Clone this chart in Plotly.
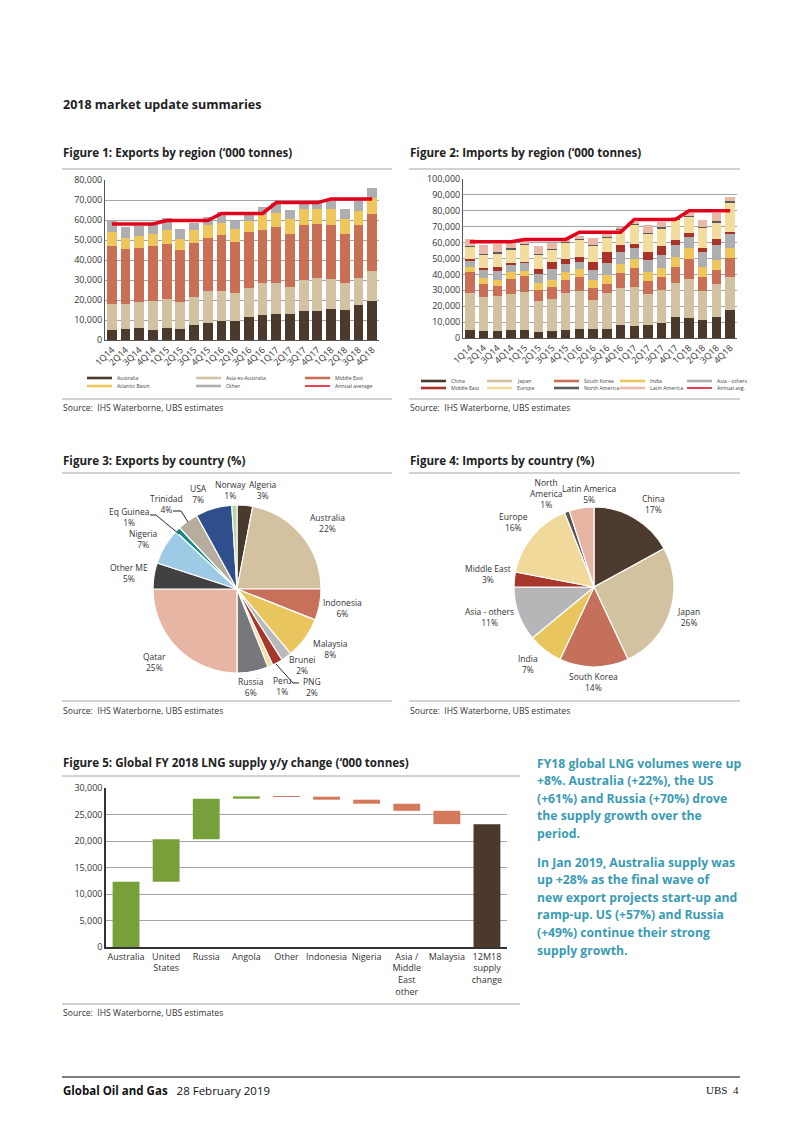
import plotly.graph_objects as go

W, H = 802, 1133
OFF = 8                      # the page body places the figure 8px from the corner
FW, FH = W - OFF, H - OFF
FONT = "Open Sans"

def X(px):
    return (px - OFF) / FW

def Y(py):
    return 1 - (py - OFF) / FH

# ---------------- DATA ----------------
quarters = ["1Q14", "2Q14", "3Q14", "4Q14", "1Q15", "2Q15", "3Q15", "4Q15",
            "1Q16", "2Q16", "3Q16", "4Q16", "1Q17", "2Q17", "3Q17", "4Q17",
            "1Q18", "2Q18", "3Q18", "4Q18"]

# Figure 1: exports by region ('000 tonnes)
exp_australia = [5000, 5500, 5800, 5000, 6200, 5700, 7700, 8500, 9300, 9300,
                 11500, 12700, 13000, 13000, 14700, 14700, 15700, 15200, 17500, 19300]
exp_asia_ex_aus = [12800, 12300, 13400, 14700, 14300, 13500, 13600, 16000, 15200, 14400,
                   14500, 15800, 15700, 13700, 15300, 16100, 14600, 13100, 13700, 15200]
exp_middle_east = [29200, 27500, 26600, 27300, 27700, 25800, 27200, 26500, 28200, 25300,
                   28200, 26500, 27600, 26500, 27700, 27000, 27200, 24700, 26100, 28300]
exp_atlantic = [6800, 5500, 6400, 5800, 6600, 5700, 6300, 6300, 5600, 6300,
                5500, 7700, 7400, 7300, 7800, 7500, 7800, 7500, 7200, 8000]
exp_other = [6200, 5500, 4800, 4700, 6000, 4800, 3900, 4000, 5900, 4400,
             3600, 4000, 4600, 4500, 4700, 4200, 5200, 5000, 6000, 5000]
exp_annual_avg = [58000, 58000, 58000, 58000, 59700, 59700, 59700, 59700,
                  63300, 63300, 63300, 63300, 68700, 68700, 68700, 68700,
                  70500, 70500, 70500, 70500]

# Figure 2: imports by region ('000 tonnes)
imp_china = [4800, 4400, 4200, 5000, 5000, 3800, 4400, 5000, 5900, 5500,
             5900, 8400, 7600, 8000, 9700, 13300, 12600, 11600, 13300, 17500]
imp_japan = [23200, 21100, 22300, 22600, 24000, 19600, 20400, 23600, 23600, 18300,
             22100, 22800, 24600, 19600, 20800, 21000, 24400, 17900, 20400, 21000]
imp_south_korea = [13300, 8200, 6300, 9400, 9900, 6700, 7400, 7800, 9000, 7400,
                   5900, 9800, 11600, 8200, 8000, 10100, 12700, 9000, 9000, 11600]
imp_india = [3500, 3800, 3600, 4300, 3200, 4200, 4200, 4900, 4700, 5200,
             5700, 5500, 5700, 5500, 5700, 6300, 6700, 6300, 6300, 6300]
imp_asia_others = [4200, 5700, 5700, 5200, 5500, 6100, 7000, 5200, 4800, 6300,
                   7800, 7400, 7300, 7700, 8000, 7800, 7400, 9100, 9500, 9100]
imp_middle_east = [500, 1000, 2300, 700, 400, 2800, 4200, 3000, 3200, 4900,
                   6500, 4600, 2600, 4900, 5700, 3200, 2100, 2900, 3800, 1400]
imp_europe = [8000, 8400, 8900, 8600, 10500, 9000, 7800, 10500, 10500, 10300,
              9300, 9500, 12200, 11600, 11100, 12600, 10500, 12900, 10500, 18600]
imp_north_america = [500, 400, 600, 600, 500, 400, 400, 400, 600, 600,
                     600, 600, 600, 400, 700, 600, 600, 400, 500, 400]
imp_latin_america = [4300, 5500, 5000, 3600, 1800, 5300, 4200, 1300, 2100, 4200,
                     2100, 1500, 600, 5200, 3100, 1500, 1500, 4200, 5200, 2700]
imp_annual_avg = [60500, 60500, 60500, 60500, 62000, 62000, 62000, 62000,
                  66500, 66500, 66500, 66500, 74500, 74500, 74500, 74500,
                  80000, 80000, 80000, 80000]

# Figure 3: exports by country (%)
exp_countries = ["Algeria", "Australia", "Indonesia", "Malaysia", "Brunei", "PNG", "Peru",
                 "Russia", "Qatar", "Other ME", "Nigeria", "Eq Guinea", "Trinidad", "USA", "Norway"]
exp_shares = [3, 22, 6, 8, 2, 2, 1, 6, 25, 5, 7, 1, 4, 7, 1]

# Figure 4: imports by country (%)
imp_countries = ["China", "Japan", "South Korea", "India", "Asia - others", "Middle East",
                 "Europe", "North America", "Latin America"]
imp_shares = [17, 26, 14, 7, 11, 3, 16, 1, 5]

# Figure 5: global FY2018 LNG supply y/y change ('000 tonnes)
wf_labels = ["Australia", "United<br>States", "Russia", "Angola", "Other", "Indonesia",
             "Nigeria", "Asia /<br>Middle<br>East<br>other", "Malaysia", "12M18<br>supply<br>change"]
wf_values = [12300, 8040, 7640, 440, -60, -570, -760, -1330, -2520, 0]
wf_measure = ["relative"] * 9 + ["total"]

# ---------------- STYLE ----------------
C_DARK = "#4b3a2c"
C_TAN = "#d3c2a2"
C_TERRA = "#c86f55"
C_YELLOW = "#eec65c"
C_GRAY = "#aeaeb0"
C_RED = "#e2001a"
C_DKRED = "#a83328"
C_LTYEL = "#f2dd9e"
C_NAGRAY = "#5b5b5b"
C_PINK = "#e8b9a8"
TEAL = "#3a9bb3"

fig = go.Figure()
shapes = []
ann = []

def txt(x, y, s, size, color="#222", xanchor="left", bold=False, family=FONT, align="left"):
    if bold:
        s = "<b>" + s + "</b>"
    ann.append(dict(x=X(x), y=Y(y), xref="paper", yref="paper", text=s, showarrow=False,
                    xanchor=xanchor, yanchor="middle", align=align,
                    font=dict(family=family, size=size, color=color)))

def hline(x0, x1, y, color="#c4c4c4", width=1.5):
    shapes.append(dict(type="line", xref="paper", yref="paper", x0=X(x0), x1=X(x1),
                       y0=Y(y), y1=Y(y), line=dict(color=color, width=width)))

def legend_entry(x0, y, name, color, lw=2.6):
    shapes.append(dict(type="line", xref="paper", yref="paper", x0=X(x0), x1=X(x0 + 25),
                       y0=Y(y), y1=Y(y), line=dict(color=color, width=lw)))
    txt(x0 + 28, y, name, 5.2, color="#444")

# ---- Figure 1 ----
fig1_series = [("Australia", exp_australia, C_DARK),
               ("Asia ex-Australia", exp_asia_ex_aus, C_TAN),
               ("Middle East", exp_middle_east, C_TERRA),
               ("Atlantic Basin", exp_atlantic, C_YELLOW),
               ("Other", exp_other, C_GRAY)]
for name, vals, col in fig1_series:
    fig.add_trace(go.Bar(x=quarters, y=vals, name=name, marker_color=col,
                         marker_line_width=0, width=0.72, showlegend=False,
                         xaxis="x", yaxis="y"))
fig.add_trace(go.Scatter(x=quarters, y=exp_annual_avg, mode="lines", name="Annual average",
                         line=dict(color=C_RED, width=3.5), showlegend=False,
                         xaxis="x", yaxis="y"))
fig1_leg = [(s[0], s[2]) for s in fig1_series] + [("Annual average", C_RED)]
cols1 = [87, 196, 305]
rows1 = [378, 386]
for i, (name, col) in enumerate(fig1_leg):
    legend_entry(cols1[i % 3], rows1[i // 3], name, col, 1.5 if name == "Annual average" else 2.6)

# ---- Figure 2 ----
fig2_series = [("China", imp_china, C_DARK), ("Japan", imp_japan, C_TAN),
               ("South Korea", imp_south_korea, C_TERRA), ("India", imp_india, C_YELLOW),
               ("Asia - others", imp_asia_others, C_GRAY), ("Middle East", imp_middle_east, C_DKRED),
               ("Europe", imp_europe, C_LTYEL), ("North America", imp_north_america, C_NAGRAY),
               ("Latin America", imp_latin_america, C_PINK)]
for name, vals, col in fig2_series:
    fig.add_trace(go.Bar(x=quarters, y=vals, name=name, marker_color=col,
                         marker_line_width=0, width=0.68, showlegend=False,
                         xaxis="x2", yaxis="y2"))
fig.add_trace(go.Scatter(x=quarters, y=imp_annual_avg, mode="lines", name="Annual avg.",
                         line=dict(color=C_RED, width=3.5), showlegend=False,
                         xaxis="x2", yaxis="y2"))
fig2_leg = [(s[0], s[2]) for s in fig2_series] + [("Annual avg.", C_RED)]
cols2 = [421, 487, 554, 620, 687]
rows2 = [381, 388]
for i, (name, col) in enumerate(fig2_leg):
    legend_entry(cols2[i % 5], rows2[i // 5], name, col, 1.5 if name == "Annual avg." else 2.6)

# ---- Figure 3 pie ----
exp_colors = ["#4a3a2e", "#d3c19f", "#c8705a", "#e9c55e", "#b9b9bb", "#a8372b", "#f2dfa6",
              "#77787b", "#e6b5a3", "#414141", "#9dcbe6", "#0f8a80", "#b7ad9e", "#2f4f8c", "#b6d4a6"]
fig.add_trace(go.Pie(labels=exp_countries, values=exp_shares, sort=False, direction="clockwise",
                     rotation=0, marker=dict(colors=exp_colors, line=dict(color="white", width=1.2)),
                     textinfo="none",
                     domain=dict(x=[X(237 - 84), X(237 + 84)], y=[Y(589 + 84), Y(589 - 84)]),
                     showlegend=False, hoverinfo="label+percent"))
pie1_label_pos = {"Algeria": (263, 490), "Australia": (327, 523), "Indonesia": (342, 608),
                  "Malaysia": (330, 649), "Brunei": (302, 665), "PNG": (312, 687),
                  "Peru": (282, 686), "Russia": (251, 687), "Qatar": (154, 662),
                  "Other ME": (129, 573), "Nigeria": (143, 539), "Eq Guinea": (129, 517),
                  "Trinidad": (166, 504), "USA": (198, 494), "Norway": (230, 490)}
for lab, v in zip(exp_countries, exp_shares):
    px, py = pie1_label_pos[lab]
    txt(px, py, f"{lab}<br>{v}%", 8.5, color="#333", xanchor="center", align="center")

# leader lines (Figure 3)
for path in ["M {0},{1} L {2},{1} L {3},{4}".format(X(150), Y(515), X(156), X(179), Y(534)),
             "M {0},{1} L {2},{1} L {3},{4}".format(X(173), Y(511), X(181), X(188), Y(522)),
             "M {0},{1} L {2},{1} L {3},{4}".format(X(299), Y(683), X(293), X(276), Y(664))]:
    shapes.append(dict(type="path", xref="paper", yref="paper", path=path,
                       line=dict(color="#222", width=1)))

# ---- Figure 4 pie ----
imp_colors = ["#4d3b2f", "#d3c2a0", "#c5705a", "#e9c55e", "#b6b6b9", "#a8372b", "#f1d99b",
              "#555555", "#e6b5a3"]
fig.add_trace(go.Pie(labels=imp_countries, values=imp_shares, sort=False, direction="clockwise",
                     rotation=0, marker=dict(colors=imp_colors, line=dict(color="white", width=1.2)),
                     textinfo="none",
                     domain=dict(x=[X(594 - 80), X(594 + 80)], y=[Y(587 + 80), Y(587 - 80)]),
                     showlegend=False, hoverinfo="label+percent"))
pie2_label_pos = {"China": (653, 504), "Japan": (688, 617), "South Korea": (593, 682),
                  "India": (528, 664), "Asia - others": (489, 617), "Middle East": (488, 574),
                  "Europe": (513, 522), "North America": (546, 494), "Latin America": (589, 494)}
for lab, v in zip(imp_countries, imp_shares):
    px, py = pie2_label_pos[lab]
    shown = lab.replace("North America", "North<br>America")
    txt(px, py, f"{shown}<br>{v}%", 8.5, color="#333", xanchor="center", align="center")

# ---- Figure 5 waterfall ----
fig.add_trace(go.Waterfall(x=wf_labels, y=wf_values, measure=wf_measure, width=0.67,
                           increasing=dict(marker=dict(color="#77a03b")),
                           decreasing=dict(marker=dict(color="#d4795c")),
                           totals=dict(marker=dict(color="#4b3a2c")),
                           connector=dict(visible=False), textposition="none",
                           showlegend=False, xaxis="x3", yaxis="y3"))

# ---------------- AXES ----------------
axfont = dict(family=FONT, size=9, color="#333")
grid = "#a6a6a6"
common = dict(automargin=False, fixedrange=True, ticks="")
fig.update_layout(
    xaxis=dict(domain=[X(105), X(379)], anchor="y", type="category", tickangle=-45,
               tickfont=axfont, showline=True, linecolor="#555", linewidth=1,
               showgrid=False, **common),
    yaxis=dict(domain=[Y(340), Y(180)], anchor="x", range=[0, 80000], dtick=10000,
               tickformat=",", tickfont=axfont, showline=True, linecolor="#555", linewidth=1,
               gridcolor=grid, gridwidth=1, zeroline=False, **common),
    xaxis2=dict(domain=[X(463), X(737)], anchor="y2", type="category", tickangle=-45,
                tickfont=axfont, showline=True, linecolor="#555", linewidth=1,
                showgrid=False, **common),
    yaxis2=dict(domain=[Y(338), Y(179)], anchor="x2", range=[0, 100000], dtick=10000,
                tickformat=",", tickfont=axfont, showline=True, linecolor="#555", linewidth=1,
                gridcolor=grid, gridwidth=1, zeroline=False, **common),
    xaxis3=dict(domain=[X(106), X(507)], anchor="y3", type="category", tickangle=0,
                tickfont=axfont, showline=True, linecolor="#333", linewidth=1.5,
                showgrid=False, **common),
    yaxis3=dict(domain=[Y(947), Y(788)], anchor="x3", range=[0, 30000], dtick=5000,
                tickformat=",", tickfont=axfont, showline=True, linecolor="#333", linewidth=1.5,
                gridcolor=grid, gridwidth=1, zeroline=False, **common),
    barmode="stack",
    showlegend=False,
)

# ---------------- TEXT & RULES ----------------
txt(61, 105, "2018 market update summaries", 12.5, bold=True)
txt(61, 153, "Figure 1: Exports by region (‘000 tonnes)", 11.6, bold=True)
txt(408, 153, "Figure 2: Imports by region (‘000 tonnes)", 11.6, bold=True)
src = "Source:  IHS Waterborne, UBS estimates"
txt(61, 408, src, 8.6, color="#333")
txt(408, 408, src, 8.6, color="#333")
txt(61, 460, "Figure 3: Exports by country (%)", 11.6, bold=True)
txt(408, 460, "Figure 4: Imports by country (%)", 11.6, bold=True)
txt(61, 711, src, 8.6, color="#333")
txt(408, 711, src, 8.6, color="#333")
txt(61, 762, "Figure 5: Global FY 2018 LNG supply y/y change (‘000 tonnes)", 11.6, bold=True)
txt(61, 1013, src, 8.6, color="#333")

para1 = ["FY18 global LNG volumes were up", "+8%. Australia (+22%), the US",
         "(+61%) and Russia (+70%) drove", "the supply growth over the", "period."]
para2 = ["In Jan 2019, Australia supply was", "up +28% as the final wave of",
         "new export projects start-up and", "ramp-up. US (+57%) and Russia",
         "(+49%) continue their strong", "supply growth."]
for i, line in enumerate(para1):
    txt(535, 763 + i * 17.6, line, 12.2, color=TEAL, bold=True)
for i, line in enumerate(para2):
    txt(535, 862 + i * 17.6, line, 12.2, color=TEAL, bold=True)

txt(61, 1090, "<b>Global Oil and Gas</b>   28 February 2019", 11.5, color="#111")
txt(741, 1090, "UBS  4", 11, color="#111", xanchor="right", family="Liberation Serif")

hline(62, 392, 169)
hline(409, 740, 169)
hline(62, 392, 399)
hline(409, 740, 399)
hline(62, 392, 473)
hline(409, 740, 473)
hline(62, 392, 701)
hline(409, 740, 701)
hline(62, 520, 776)
hline(62, 520, 1004)
hline(62, 740, 1077, color="#555", width=1.5)

fig.update_layout(annotations=ann, shapes=shapes,
                  width=FW, height=FH, margin=dict(l=0, r=0, t=0, b=0, autoexpand=False),
                  paper_bgcolor="white", plot_bgcolor="white",
                  font=dict(family=FONT, size=9, color="#333"))

fig.write_html("out.html", include_plotlyjs=True, config={"displayModeBar": False})
